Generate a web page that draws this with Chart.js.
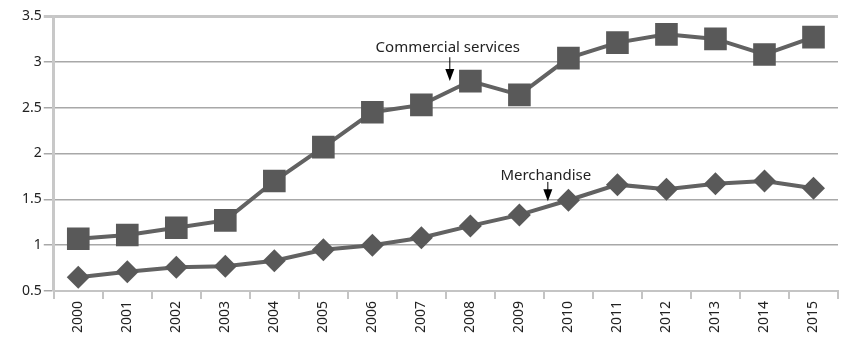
<!DOCTYPE html>
<html>
<head>
<meta charset="utf-8">
<script src="https://cdn.jsdelivr.net/npm/chart.js@4/dist/chart.umd.min.js"></script>
<style>
  html, body { margin: 0; padding: 0; background: #fff; }
  #wrap { width: 854px; height: 337px; position: relative; }
</style>
</head>
<body>
<div id="wrap"><canvas id="c"></canvas></div>
<script>
// Years on the category axis
const years = ['2000','2001','2002','2003','2004','2005','2006','2007',
               '2008','2009','2010','2011','2012','2013','2014','2015'];

// Index values per year
const commercialServices = [1.07, 1.11, 1.19, 1.27, 1.70, 2.07, 2.45, 2.53,
                            2.79, 2.64, 3.04, 3.21, 3.30, 3.25, 3.08, 3.27];
const merchandise = [0.65, 0.71, 0.76, 0.77, 0.83, 0.95, 1.00, 1.08,
                     1.21, 1.33, 1.49, 1.66, 1.61, 1.67, 1.70, 1.62];

// Value-axis tick labels
const yTickLabels = ['0.5', '1', '1.5', '2', '2.5', '3', '3.5'];

// Callout labels: [text, category index offset, text value, arrow start value, arrow tip value]
const callouts = [
  ['Commercial services', 7.58, 3.15, 3.05, 2.79],
  ['Merchandise', 9.58, 1.76, 1.69, 1.48]
];

const FONT = '"Noto Sans", "Open Sans", sans-serif';
const INK = '#595959';

const calloutPlugin = {
  id: 'callouts',
  afterDatasetsDraw(chart) {
    const { ctx, scales: { x, y } } = chart;
    const step = x.getPixelForValue(1) - x.getPixelForValue(0);
    ctx.save();
    callouts.forEach(([label, xi, ty, a0, a1]) => {
      const px = x.getPixelForValue(0) + xi * step;
      ctx.fillStyle = '#222';
      ctx.font = '15px ' + FONT;
      ctx.textAlign = 'center';
      ctx.textBaseline = 'middle';
      ctx.fillText(label, px - 2, y.getPixelForValue(ty));
      const yTop = y.getPixelForValue(a0);
      const yTip = y.getPixelForValue(a1);
      ctx.strokeStyle = '#000';
      ctx.fillStyle = '#000';
      ctx.lineWidth = 1;
      ctx.beginPath();
      ctx.moveTo(px, yTop);
      ctx.lineTo(px, yTip - 8);
      ctx.stroke();
      ctx.beginPath();
      ctx.moveTo(px - 4.5, yTip - 12);
      ctx.lineTo(px + 4.5, yTip - 12);
      ctx.lineTo(px, yTip);
      ctx.closePath();
      ctx.fill();
    });
    ctx.restore();
  }
};

new Chart(document.getElementById('c'), {
  type: 'line',
  data: {
    labels: years,
    datasets: [
      {
        label: 'Commercial services',
        data: commercialServices,
        borderColor: '#626262',
        borderWidth: 4,
        backgroundColor: INK,
        pointStyle: 'rect',
        pointRadius: 16,
        pointBorderWidth: 0,
        pointBackgroundColor: INK,
        tension: 0
      },
      {
        label: 'Merchandise',
        data: merchandise,
        borderColor: '#626262',
        borderWidth: 4,
        backgroundColor: INK,
        pointStyle: 'rectRot',
        pointRadius: 11.5,
        pointBorderWidth: 0,
        pointBackgroundColor: INK,
        tension: 0
      }
    ]
  },
  options: {
    responsive: true,
    maintainAspectRatio: false,
    animation: false,
    events: [],
    layout: { padding: { top: 4, right: 1, left: 20, bottom: 2 } },
    plugins: {
      legend: { display: false },
      tooltip: { enabled: false }
    },
    scales: {
      x: {
        offset: true,
        grid: {
          offset: true,
          drawOnChartArea: false,
          drawTicks: true,
          tickLength: 8,
          color: '#c4c4c4',
          lineWidth: 2
        },
        border: { color: '#c4c4c4', width: 2 },
        ticks: {
          color: '#222',
          font: { family: FONT, size: 14 },
          minRotation: 90,
          maxRotation: 90,
          padding: 2
        }
      },
      y: {
        min: 0.5,
        max: 3.5,
        grid: {
          color: (c) => c.tick && c.tick.value === 3.5 ? '#c6c6c6' : '#a8a8a8',
          lineWidth: (c) => c.tick && c.tick.value === 3.5 ? 3 : 1.5,
          tickLength: 10
        },
        border: { color: '#c8c8c8', width: 3 },
        ticks: {
          stepSize: 0.5,
          color: '#222',
          font: { family: FONT, size: 14 },
          padding: 2,
          callback: (v, i) => yTickLabels[i]
        }
      }
    }
  },
  plugins: [calloutPlugin]
});
</script>
</body>
</html>
